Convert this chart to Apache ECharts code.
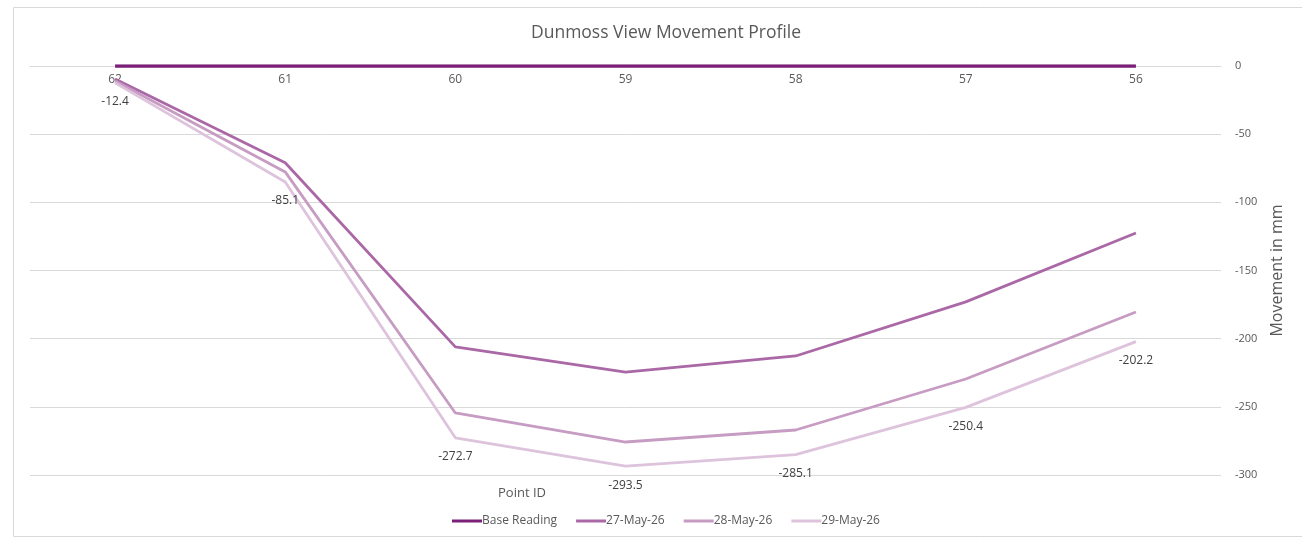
<!DOCTYPE html>
<html>
<head>
<meta charset="utf-8">
<script src="https://cdn.jsdelivr.net/npm/echarts@6/dist/echarts.min.js"></script>
<style>
html,body{margin:0;padding:0;background:#fff;}
#chart{width:1302px;height:541px;}
</style>
</head>
<body>
<div id="chart"></div>
<script>
const categories = ['62','61','60','59','58','57','56'];
const baseReading = [0,0,0,0,0,0,0];
const may27 = [-9.5,-71,-206,-224.5,-212.7,-173,-122.5];
const may28 = [-11,-77.7,-254.5,-275.8,-267,-229.6,-180.4];
const may29 = [-12.4,-85.1,-272.7,-293.5,-285.1,-250.4,-202.2];
const seriesNames = ['Base Reading','27-May-26','28-May-26','29-May-26'];
const yTicks = {min:-300,max:0,interval:50};

const colors = ['#7b1f78','#ab68a7','#c79cc3','#dec3dc'];
const txt = '#595959';
const font = 'Open Sans';

const chart = echarts.init(document.getElementById('chart'));
const mk = (name, data, color, width, labels) => ({
  name, type:'line', data, symbol:'circle', symbolSize:0, showSymbol:true, color,
  lineStyle:{color, width},
  itemStyle:{color},
  label: labels ? {show:true, position:'bottom', distance:13, color:'#404040', fontSize:12, fontFamily:font, formatter:p=>Number(p.value).toFixed(1)} : {show:false},
  emphasis:{disabled:true}
});
chart.setOption({
  animation:false,
  textStyle:{fontFamily:font},
  title:[
    {text:'Dunmoss View Movement Profile', left:661, top:19, textAlign:'center',
     textStyle:{color:txt, fontSize:17.5, fontWeight:'normal', fontFamily:font}},
    {text:'Point ID', left:517, top:482, textAlign:'center',
     textStyle:{color:txt, fontSize:13, fontWeight:'normal', fontFamily:font}}
  ],
  legend:{
    data:seriesNames, bottom:9, left:447, itemWidth:30, itemHeight:3, itemGap:19,
    icon:'rect',
    textStyle:{color:txt, fontSize:12, fontFamily:font, padding:[0,0,0,-5]}
  },
  grid:{left:30, right:81, top:66, bottom:66},
  xAxis:{
    type:'category', data:categories, boundaryGap:true, position:'top',
    axisLine:{show:true, lineStyle:{color:'#d9d9d9', width:1}},
    axisTick:{show:false},
    axisLabel:{color:txt, fontSize:12, inside:true, margin:8, fontFamily:font}
  },
  yAxis:{
    type:'value', position:'right', min:yTicks.min, max:yTicks.max, interval:yTicks.interval,
    name:'Movement in mm', nameLocation:'middle', nameRotate:90, nameGap:48,
    nameTextStyle:{color:txt, fontSize:16, fontFamily:font},
    axisLine:{show:false}, axisTick:{show:false},
    axisLabel:{color:txt, fontSize:11, margin:14, fontFamily:font},
    splitLine:{lineStyle:{color:'#d9d9d9', width:1}}
  },
  graphic:[
    {type:'rect', shape:{x:13.5, y:7.5, width:1300, height:529}, style:{fill:'none', stroke:'#d9d9d9', lineWidth:1}, silent:true}
  ],
  series:[
    mk(seriesNames[0], baseReading, colors[0], 3.5, false),
    mk(seriesNames[1], may27, colors[1], 2.8, false),
    mk(seriesNames[2], may28, colors[2], 2.8, false),
    mk(seriesNames[3], may29, colors[3], 2.8, true)
  ]
});
</script>
</body>
</html>
